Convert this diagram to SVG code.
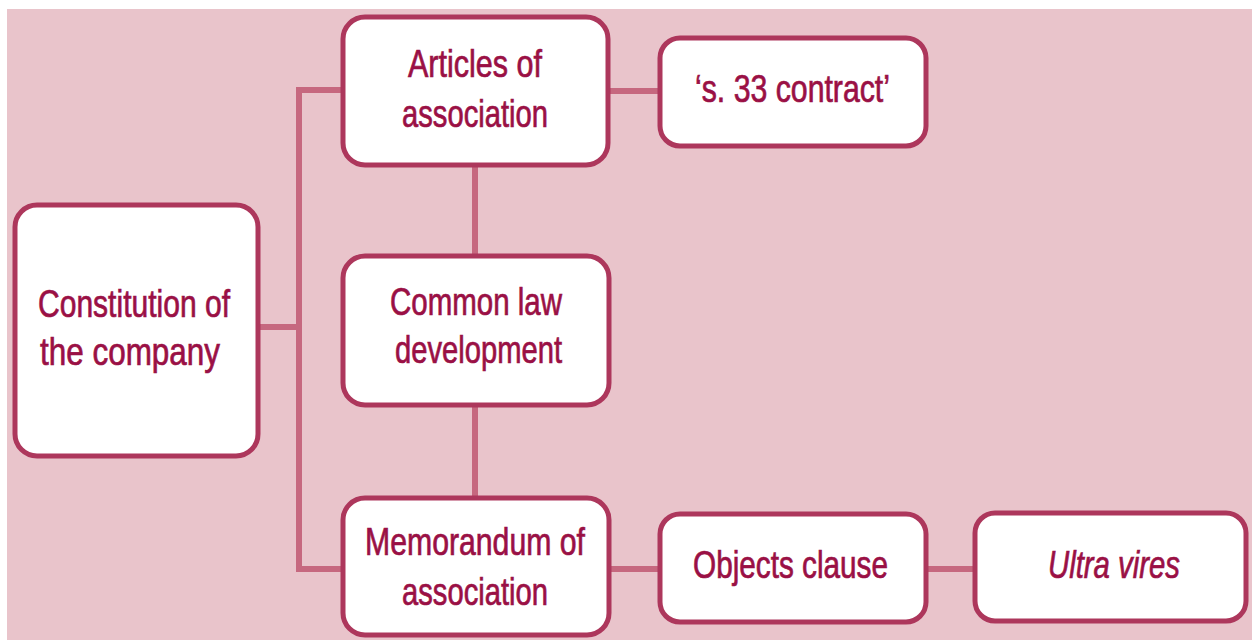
<svg xmlns="http://www.w3.org/2000/svg" width="1252" height="640" viewBox="0 0 1252 640">
  <style>
    .box { fill: #ffffff; stroke: #ad375c; stroke-width: 5; }
    .link { fill: none; stroke: #c6687f; stroke-width: 6; }
    .label { font-family: "Liberation Sans", Arial, sans-serif; font-size: 38px; fill: #9a1045; stroke: #9a1045; stroke-width: 0.7; }
    .em { font-style: italic; }
  </style>

  <!-- page -->
  <rect x="0" y="0" width="1252" height="640" fill="#ffffff"/>
  <rect x="7" y="9" width="1245" height="631" fill="#e9c4cb"/>

  <!-- connectors -->
  <g id="connectors">
    <path class="link" d="M343,90 H299 V569 H343"/>
    <path class="link" d="M258,327 H299"/>
    <path class="link" d="M608,91 H660"/>
    <path class="link" d="M475,165 V255"/>
    <path class="link" d="M475,405 V497"/>
    <path class="link" d="M608,569 H660"/>
    <path class="link" d="M927,569 H975"/>
  </g>

  <g id="constitution">
    <rect class="box" x="15" y="205" width="243" height="251" rx="22"/>
    <text class="label" x="38" y="317" textLength="192" lengthAdjust="spacingAndGlyphs">Constitution of</text>
    <text class="label" x="40" y="365" textLength="180" lengthAdjust="spacingAndGlyphs">the company</text>
  </g>

  <g id="articles">
    <rect class="box" x="343" y="17" width="265" height="148" rx="22"/>
    <text class="label" x="408" y="77" textLength="134" lengthAdjust="spacingAndGlyphs">Articles of</text>
    <text class="label" x="402" y="127" textLength="146" lengthAdjust="spacingAndGlyphs">association</text>
  </g>

  <g id="s33">
    <rect class="box" x="660" y="38" width="266" height="108" rx="20"/>
    <text class="label" x="695" y="102" textLength="195" lengthAdjust="spacingAndGlyphs">‘s. 33 contract’</text>
  </g>

  <g id="common-law">
    <rect class="box" x="343" y="256" width="266" height="149" rx="22"/>
    <text class="label" x="390" y="315" textLength="172" lengthAdjust="spacingAndGlyphs">Common law</text>
    <text class="label" x="395" y="363" textLength="167" lengthAdjust="spacingAndGlyphs">development</text>
  </g>

  <g id="memorandum">
    <rect class="box" x="343" y="498" width="266" height="137" rx="22"/>
    <text class="label" x="365" y="555" textLength="220" lengthAdjust="spacingAndGlyphs">Memorandum of</text>
    <text class="label" x="402" y="605" textLength="146" lengthAdjust="spacingAndGlyphs">association</text>
  </g>

  <g id="objects">
    <rect class="box" x="660" y="514" width="266" height="108" rx="20"/>
    <text class="label" x="693" y="578" textLength="195" lengthAdjust="spacingAndGlyphs">Objects clause</text>
  </g>

  <g id="ultra-vires">
    <rect class="box" x="975" y="513" width="271" height="108" rx="20"/>
    <text class="label em" x="1048" y="578" textLength="132" lengthAdjust="spacingAndGlyphs">Ultra vires</text>
  </g>
</svg>
